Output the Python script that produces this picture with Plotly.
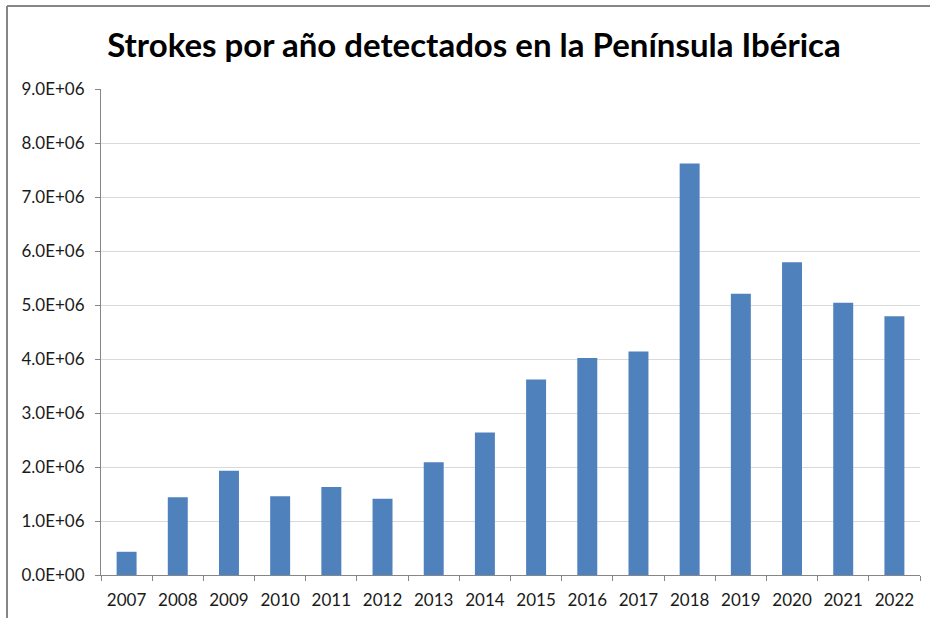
import plotly.graph_objects as go

years = ["2007", "2008", "2009", "2010", "2011", "2012", "2013", "2014",
         "2015", "2016", "2017", "2018", "2019", "2020", "2021", "2022"]
strokes = [0.43e6, 1.44e6, 1.93e6, 1.46e6, 1.63e6, 1.41e6, 2.09e6, 2.64e6,
           3.62e6, 4.02e6, 4.14e6, 7.62e6, 5.21e6, 5.79e6, 5.04e6, 4.79e6]
ytick_vals = [i * 1e6 for i in range(10)]
ytick_text = [f"{i}.0E+06" if i > 0 else "0.0E+00" for i in range(10)]

W, H = 930, 618
ml, mr, mt, mb = 101, 10, 89, 43

fig = go.Figure(go.Bar(
    x=years, y=strokes,
    marker=dict(color="#4F81BD", line=dict(width=0)),
    width=0.39,
))

fig.update_layout(
    width=W, height=H,
    margin=dict(l=ml, r=mr, t=mt, b=mb, autoexpand=False),
    paper_bgcolor="white", plot_bgcolor="white",
    font=dict(family="Lato, Calibri, sans-serif", size=17, color="#1a1a1a"),
    title=dict(text="<b>Strokes por año detectados en la Península Ibérica</b>",
               x=474 / W, xanchor="center", y=1 - 45 / H, yanchor="middle",
               font=dict(size=33, color="#000000")),
    showlegend=False,
    bargap=0.6,
)
fig.update_xaxes(
    type="category", showline=True, linecolor="#868686", linewidth=1,
    ticks="outside", tickson="boundaries", ticklen=5, tickcolor="#868686",
    showgrid=False, tickfont=dict(size=17), automargin=False,
    ticklabelstandoff=10,
)
fig.update_yaxes(
    range=[0, 9e6], tickvals=ytick_vals, ticktext=ytick_text,
    showline=True, linecolor="#868686", linewidth=1,
    ticks="outside", ticklen=5, tickcolor="#868686",
    showgrid=True, gridcolor="#D9D9D9", gridwidth=1,
    zeroline=False, tickfont=dict(size=17), automargin=False,
    ticklabelstandoff=7,
)
plot_w = W - ml - mr
plot_h = H - mt - mb
bx = (7 - ml) / plot_w
by = (H - mb - 6) / plot_h
# chart border (left and top edges visible in the reference)
fig.add_shape(type="line", xref="paper", yref="paper",
              x0=bx, x1=bx, y0=-mb / plot_h, y1=by,
              line=dict(color="#868686", width=2))
fig.add_shape(type="line", xref="paper", yref="paper",
              x0=bx, x1=(W - ml) / plot_w, y0=by, y1=by,
              line=dict(color="#868686", width=2))

fig.write_html("out.html", config={"displayModeBar": False},
               post_script="document.body.style.margin='0px';")
